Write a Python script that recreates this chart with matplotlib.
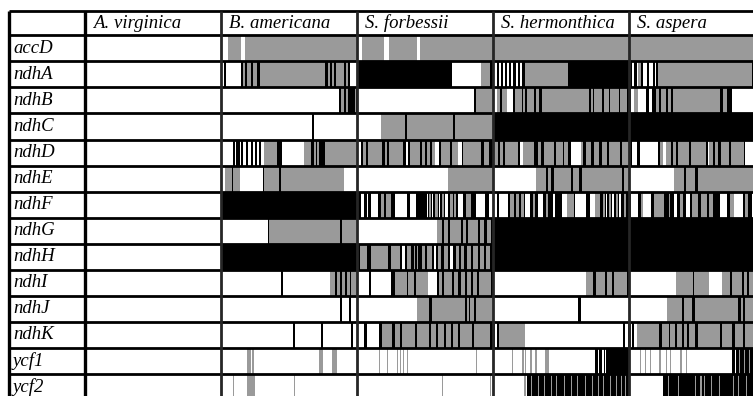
import matplotlib
matplotlib.use("Agg")
import matplotlib.pyplot as plt

# genes (rows) and species (columns)
genes = ["accD", "ndhA", "ndhB", "ndhC", "ndhD", "ndhE", "ndhF", "ndhG",
         "ndhH", "ndhI", "ndhJ", "ndhK", "ycf1", "ycf2"]
species = ["A. virginica", "B. americana", "S. forbessii", "S. hermonthica", "S. aspera"]

# each cell: runs of w (white), g (gray), k (black); numbers are relative widths
virginica = ["w134"] * 14

americana = [
    "w7 g13 w4 g110",
    "w3 k2 w15 k2 g2 k2 g4 k2 g3 k3 g64 k3 g2 k2 g2 k2 g8 k2 g2 k2 w7",
    "w116 k2 g3 k2 g2 k7 g1 k1",
    "w90 k2 w42",
    "w12 k2 w1 k4 w1 k2 w3 k2 w3 k2 w2 k1 w2 k2 w3 g13 k5 w22 g7 k3 g2 k1 g2 k5 g32",
    "w4 g7 k1 g7 w22 k1 g15 k2 g62 w13",
    "k134",
    "w46 k1 g70 k2 g15",
    "k134",
    "w59 k2 w46 g5 k2 g3 k2 g3 k2 g3 k1 g6",
    "w117 k2 w7 k2 w6",
    "w71 k2 w26 k2 w27 k2 w4",
    "w26 g4 w1 g2 w64 g4 w8 g5 w20",
    "w12 g1 w13 g8 w38 g1 w61",
]

forbessii = [
    "w5 g22 w5 g27 w3 g72",
    "k94 w28 g9 k3",
    "w115 k2 g17",
    "w24 g23 k2 g46 k2 g37",
    "w4 k2 g3 k2 g14 k3 g2 k2 g13 k3 w2 k2 g10 k2 g3 k2 g3 k2 g3 w4 k2 g9 k2 g6 w3 k1 g18 k3 g5 k4",
    "w90 g44",
    "k4 w2 k3 w1 k3 w6 k3 g2 k2 g5 k3 w11 k3 w5 k10 w1 k1 g2 k1 w1 k2 g2 k1 w1 k2 g2 k1 w2 "
    "k2 g3 k1 g2 k1 w5 k3 g4 k5 w8 k3 w4",
    "k1 w78 g5 k2 g4 k2 g10 k2 g3 k2 g10 k2 g4 k3 g4 k2",
    "k3 g6 k4 g15 k3 g8 k2 w3 k2 g3 k3 g1 k2 g1 k3 g3 k2 g4 k2 w2 k2 g3 k2 g4 k2 w3 k2 g3 "
    "k2 g3 k2 g4 k2 g4 k2 g4 k2 g3 k3",
    "w12 k2 w20 k3 g12 k1 g6 k2 g12 w9 k2 g3 k2 g8 k2 g4 k2 g4 k2 g4 k2 g4 k2 g12 k2",
    "w59 g11 k3 g33 k2 g2 k1 g3 k2 g17",
    "w7 k3 w12 k2 g10 k3 g5 k2 g13 k2 g11 k2 g5 k2 g6 k2 g5 k2 g5 k2 g11 k2 g16 k3",
    "w22 g1 w7 g1 w8 g1 w2 g1 w2 g1 w3 g1 w67 g1 w16",
    "w84 g1 w46 g1 w2",
]

hermonthica = [
    "g134",
    "k1 w3 k2 w2 k2 w2 k2 w2 k2 w2 k3 w2 k2 w2 k3 g42 k60",
    "w4 g3 k2 g5 w6 k2 g7 k1 g2 k2 g6 k2 g3 k3 g47 k2 g2 k1 g7 k2 g5 k1 g9 k1 g7 k2",
    "k134",
    "k1 g4 k2 g3 k2 g13 k2 w3 g10 k4 g3 k3 g10 k2 g7 k1 g4 k3 w10 g2 k3 g5 k3 g4 k3 g5 k2 g11 k2 g7",
    "w42 g10 k2 g3 k3 g17 k2 g6 k3 g39 k2 g5",
    "k1 w3 k2 w9 k2 g3 k2 g3 k2 g3 k1 w5 k3 g2 k3 w5 k2 g2 k5 w2 k7 w5 g7 k1 w10 k4 w5 g5 k3 "
    "g2 k1 w1 k2 g2 k1 w1 k2 g2 k1 w2 k3 g2 k3",
    "k134",
    "k134",
    "w92 g7 k3 g8 k2 g5 k2 g13 k2",
    "w84 k3 w47",
    "k2 w2 k2 g26 w97 k2 w3 k1",
    "w19 g1 w9 g2 w1 g1 w3 g2 w3 g2 w8 g4 w46 k2 w1 k3 w2 k1 w1 k23",
    "w31 g2 w1 k4 g1 k6 g1 k5 g1 k6 g1 k4 g1 k7 g1 k6 g1 k5 g1 k7 g1 k6 g1 k5 g1 k4 g1 k6 "
    "g1 k5 g1 k4 g1 k3 g1 k3",
]

aspera = [
    "g134",
    "k3 w2 k3 w1 g3 k2 w4 k2 w4 k2 w1 k2 g92 k3 g10",
    "k2 w3 g4 w8 k3 w3 k4 g3 k2 g4 k2 g3 k2 g47 k3 g4 k5 w32",
    "k134",
    "k3 w5 k3 w18 k2 g3 w2 g5 k2 g3 k2 g11 k2 g15 k2 w1 g4 k2 g3 k3 g8 k2 g12 k1 w9 k1 g10",
    "w44 g10 k2 g9 k3 g54 k2 g10",
    "k2 w7 k3 g2 w8 k3 g10 k4 g1 k4 w3 k3 g3 k3 w4 k2 g6 k3 g6 k2 g4 k7 w7 k3 g3 w9 k2 g3 "
    "k4 w3 k3 w7",
    "k134",
    "k134",
    "w47 g17 k1 g14 w13 g8 k2 g10 k2 g3 k2 g16",
    "w37 g15 k2 g8 k3 g42 k3 g2 k2 g8 k2 g10",
    "k2 w1 k2 w3 g22 k3 g6 k1 g5 k2 g5 k2 g3 k2 g6 k3 g22 k2 g10 k2 g8 k2 g20",
    "w11 g1 w4 g1 w4 g1 w8 g2 w4 g1 w3 g1 w9 g2 w4 g1 w45 k2 w1 k3 g1 k4 g1 k4 g1 k15",
    "w34 k5 g1 k9 g1 k16 g1 k4 g1 k2 g1 k6 g1 k7 g1 k13 g1 k4 g1 k7 g1 k18",
]

columns = [virginica, americana, forbessii, hermonthica, aspera]
colors = {"g": "#9a9a9a", "k": "#000000"}


def parse(cell):
    runs = [(tok[0], float(tok[1:])) for tok in cell.split()]
    total = sum(n for _, n in runs)
    out = []
    pos = 0.0
    for c, n in runs:
        out.append((c, pos / total, n / total))
        pos += n
    return out


fig = plt.figure(figsize=(7.53, 3.96), dpi=100)
ax = fig.add_axes([0, 0, 1, 1])
ax.set_xlim(-0.625, 4.912)
ax.set_ylim(13.846, -1.355)
ax.axis("off")

label_left = -0.559
header_top = -0.933

# draw the cells
for j, col in enumerate(columns):
    for i, cell in enumerate(col):
        for c, start, width in parse(cell):
            if c == "w":
                continue
            ax.barh(i + 0.5, width, left=j + start, height=1.0,
                    color=colors[c], linewidth=0)

# table lines
lw = 2.0
ax.hlines([header_top] + list(range(len(genes) + 1)), label_left, 5.2,
          color="black", linewidth=lw)
ax.vlines([label_left, 0], header_top, len(genes) + 1, color="black", linewidth=lw + 0.4)
ax.vlines([1, 2, 3, 4], header_top, len(genes) + 1, color="#262626", linewidth=lw)

font = dict(family=["Liberation Serif", "DejaVu Serif"], style="italic", fontsize=13.5)
for j, name in enumerate(species):
    ax.text(j + 0.06, header_top / 2, name, va="center", ha="left", **font)
for i, g in enumerate(genes):
    ax.text(label_left + 0.03, i + 0.5, g, va="center", ha="left", **font)

fig.savefig("out.png", dpi=100)
